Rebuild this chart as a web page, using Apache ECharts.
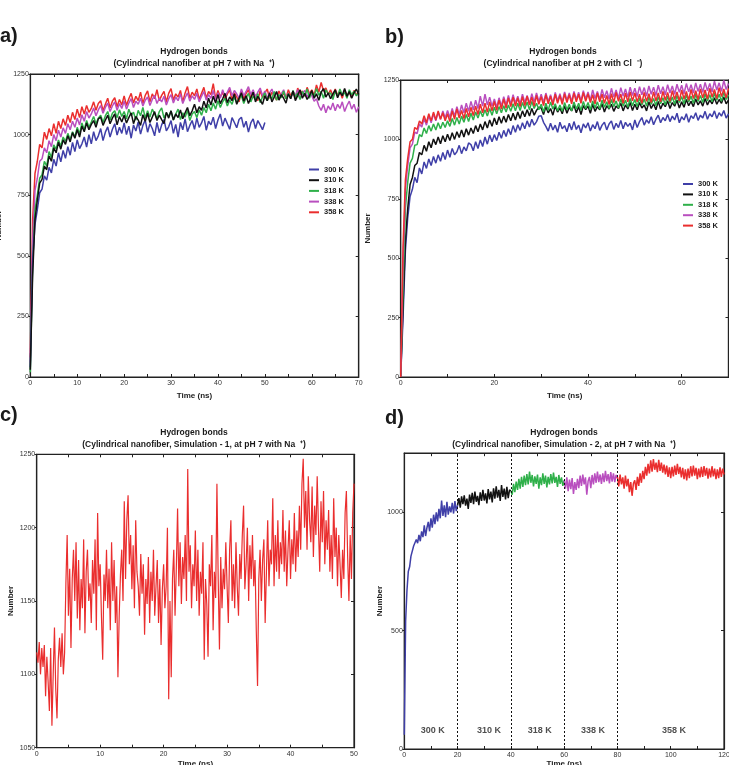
<!DOCTYPE html>
<html><head><meta charset="utf-8">
<script src="https://cdn.jsdelivr.net/npm/echarts@6/dist/echarts.min.js"></script>
<style>html,body{margin:0;padding:0;background:#fff}#c{width:729px;height:765px}</style>
</head><body><div id="c"></div>
<script>
const FONT = '"Liberation Sans", Arial, sans-serif';
const tempNames = ['300 K','310 K','318 K','338 K','358 K'];
const colors = ['#3f3fa8','#111111','#2fb04a','#b94fbf','#ea2e2e'];
const stepAB = 0.5, stepC = 0.2, stepD = 0.5;

// Panel a (pH 7, Na+), sampled every 0.5 ns
const a300 = [40,480,630,690,760,775,830,812,865,842,
898,870,925,888,935,902,950,915,968,930,
978,942,962,990,948,1000,962,1012,975,995,
1025,975,1010,1032,990,1022,1045,998,1030,1005,
1048,1000,1035,985,1040,1015,1052,1002,1038,1060,
1010,1045,1025,995,1050,1008,1040,1062,1015,1032,
1058,1005,1042,990,1050,1020,1065,1012,1038,1058,
1022,1068,1030,1048,1075,1018,1055,1040,1072,1025,
1060,1085,1035,1068,1045,1022,1070,1050,1028,1062,
1072,1030,1055,1010,1048,1065,1025,1058,1040,1020,
1050];
const a310 = [30,420,650,730,800,815,870,855,912,890,
945,925,968,940,978,960,995,970,1008,985,
1020,990,1035,1012,1048,1020,1042,1058,1030,1065,
1072,1038,1060,1080,1045,1068,1085,1040,1075,1052,
1080,1048,1070,1090,1045,1075,1060,1038,1082,1055,
1088,1050,1072,1095,1058,1080,1062,1045,1092,1068,
1098,1060,1085,1070,1102,1065,1090,1112,1078,1098,
1125,1090,1115,1100,1138,1110,1150,1122,1158,1130,
1165,1128,1148,1170,1132,1155,1140,1168,1125,1150,
1172,1138,1160,1128,1152,1175,1135,1158,1142,1125,
1160,1140,1172,1135,1155,1178,1142,1165,1150,1130,
1168,1148,1180,1140,1162,1185,1150,1170,1145,1160,
1182,1150,1168,1142,1175,1190,1155,1172,1148,1168,
1185,1152,1175,1160,1190,1158,1178,1150,1172,1188,
1165];
const a318 = [20,460,690,750,820,835,890,870,930,905,
958,940,978,952,990,972,1005,980,1012,990,
1030,1002,1048,1020,1058,1030,1052,1075,1045,1068,
1080,1050,1078,1095,1060,1088,1098,1070,1102,1075,
1095,1065,1105,1080,1092,1060,1100,1078,1112,1068,
1098,1072,1105,1085,1065,1095,1110,1068,1090,1075,
1098,1060,1085,1105,1062,1090,1072,1100,1058,1085,
1095,1070,1102,1080,1112,1090,1125,1098,1130,1105,
1140,1112,1135,1150,1118,1142,1125,1155,1130,1148,
1160,1128,1152,1170,1135,1158,1145,1168,1132,1155,
1172,1140,1160,1148,1178,1142,1165,1152,1180,1148,
1168,1150,1182,1155,1172,1145,1178,1160,1188,1150,
1175,1158,1190,1162,1178,1150,1185,1168,1172,1145,
1180,1158,1188,1162,1175,1150,1185,1165,1178,1160,
1172];
const a338 = [60,560,770,820,890,900,945,925,975,950,
1000,975,1018,990,1028,1005,1045,1020,1055,1030,
1068,1040,1082,1055,1095,1068,1085,1110,1078,1102,
1120,1088,1112,1130,1095,1118,1135,1100,1128,1108,
1138,1105,1130,1148,1112,1138,1125,1150,1118,1142,
1155,1120,1145,1162,1128,1150,1135,1158,1122,1148,
1165,1130,1155,1140,1168,1128,1152,1172,1138,1160,
1145,1170,1135,1158,1178,1142,1165,1150,1182,1140,
1172,1150,1185,1158,1175,1195,1160,1182,1168,1150,
1188,1160,1178,1198,1165,1185,1155,1175,1192,1160,
1180,1150,1172,1188,1158,1175,1145,1168,1185,1152,
1170,1148,1178,1160,1185,1150,1168,1182,1155,1172,
1160,1138,1148,1118,1100,1125,1090,1118,1102,1130,
1098,1125,1108,1135,1095,1120,1138,1105,1125,1092,
1115];
const a358 = [80,650,840,890,960,945,1010,980,1025,995,
1045,1005,1055,1025,1065,1038,1080,1050,1092,1062,
1105,1070,1115,1085,1120,1092,1108,1135,1100,1128,
1140,1098,1125,1150,1110,1138,1152,1115,1145,1122,
1160,1120,1148,1170,1130,1158,1140,1175,1128,1162,
1180,1135,1168,1148,1185,1140,1162,1178,1135,1170,
1190,1142,1168,1155,1182,1135,1172,1198,1150,1175,
1160,1188,1145,1170,1195,1150,1178,1165,1210,1148,
1182,1155,1175,1145,1168,1185,1142,1172,1155,1135,
1178,1148,1170,1185,1150,1175,1160,1140,1182,1152,
1172,1188,1150,1175,1160,1142,1180,1158,1170,1148,
1185,1160,1178,1150,1192,1165,1180,1158,1195,1168,
1185,1162,1205,1175,1215,1180,1192,1165,1185,1158,
1188,1162,1178,1150,1185,1160,1175,1152,1182,1165,
1172];

// Panel b (pH 2, Cl-), sampled every 0.5 ns
const b300 = [0,250,530,670,760,790,840,818,880,855,
905,878,918,890,928,900,935,908,945,915,
955,925,962,935,948,975,940,968,952,985,
978,952,990,962,998,970,1010,980,1018,990,
1020,995,1030,1005,1038,1012,1045,1020,1058,1030,
1062,1038,1070,1045,1078,1052,1085,1060,1075,1098,
1100,1072,1055,1035,1068,1040,1060,1030,1072,1045,
1058,1032,1068,1040,1075,1042,1060,1028,1065,1048,
1070,1035,1062,1045,1075,1038,1060,1072,1040,1065,
1078,1042,1068,1050,1080,1045,1072,1055,1068,1040,
1082,1050,1075,1092,1060,1082,1068,1095,1062,1085,
1102,1070,1092,1078,1105,1075,1098,1082,1110,1070,
1095,1082,1108,1072,1100,1088,1112,1080,1102,1090,
1118,1085,1108,1095,1120,1088,1112,1098,1122,1090,
1108];
const b310 = [0,300,570,710,810,840,890,900,945,935,
975,950,990,965,1002,978,1010,982,1015,990,
1022,995,1028,1000,1032,1008,1040,1010,1045,1018,
1048,1025,1058,1032,1065,1040,1075,1048,1082,1055,
1090,1062,1095,1068,1098,1072,1105,1078,1110,1082,
1115,1088,1120,1095,1125,1098,1130,1102,1122,1135,
1132,1105,1138,1112,1130,1102,1140,1115,1132,1108,
1142,1110,1135,1120,1145,1112,1138,1105,1142,1125,
1140,1110,1148,1118,1138,1125,1150,1115,1142,1128,
1148,1118,1140,1130,1152,1120,1145,1128,1155,1122,
1148,1125,1155,1132,1145,1120,1158,1130,1150,1125,
1160,1128,1152,1138,1162,1130,1155,1140,1165,1132,
1158,1135,1168,1142,1160,1138,1170,1145,1162,1140,
1172,1145,1165,1150,1175,1148,1168,1152,1178,1150,
1165];
const b318 = [0,380,710,820,900,920,975,978,1020,1012,
1048,1025,1058,1035,1065,1040,1070,1045,1072,1050,
1078,1055,1088,1060,1092,1065,1098,1072,1105,1075,
1110,1082,1115,1090,1120,1095,1125,1098,1130,1102,
1135,1108,1138,1112,1142,1115,1145,1118,1150,1120,
1152,1122,1155,1128,1158,1125,1160,1130,1152,1125,
1148,1115,1152,1122,1158,1128,1150,1120,1145,1118,
1155,1125,1148,1120,1158,1128,1152,1122,1160,1130,
1155,1125,1162,1132,1158,1128,1165,1135,1158,1130,
1168,1138,1162,1132,1170,1140,1165,1135,1172,1142,
1168,1138,1175,1145,1170,1140,1178,1148,1172,1142,
1180,1150,1175,1145,1182,1152,1178,1148,1185,1155,
1180,1150,1188,1158,1182,1152,1190,1160,1185,1155,
1192,1162,1188,1158,1195,1165,1190,1160,1198,1168,
1188];
const b338 = [0,480,790,890,965,980,1030,1025,1065,1052,
1088,1060,1100,1070,1108,1078,1115,1085,1120,1090,
1122,1092,1130,1098,1138,1105,1145,1112,1152,1118,
1160,1125,1165,1130,1182,1140,1190,1145,1178,1140,
1170,1135,1175,1140,1180,1145,1185,1148,1188,1152,
1182,1148,1190,1155,1185,1150,1192,1158,1195,1160,
1190,1155,1195,1160,1188,1152,1198,1162,1192,1158,
1200,1165,1195,1160,1202,1168,1198,1162,1205,1170,
1200,1165,1208,1172,1202,1168,1210,1175,1205,1170,
1215,1178,1208,1172,1218,1182,1212,1178,1220,1185,
1215,1180,1222,1188,1218,1182,1225,1190,1220,1185,
1228,1192,1222,1188,1230,1195,1225,1190,1232,1198,
1228,1192,1235,1200,1230,1195,1238,1202,1232,1198,
1240,1205,1235,1200,1245,1208,1238,1202,1248,1210,
1235];
const b358 = [0,550,830,920,990,1000,1050,1042,1078,1065,
1100,1070,1108,1078,1115,1082,1120,1085,1112,1078,
1108,1075,1120,1085,1128,1090,1122,1088,1130,1095,
1135,1100,1140,1105,1148,1112,1152,1115,1158,1120,
1160,1122,1165,1128,1170,1132,1175,1138,1178,1140,
1175,1138,1180,1142,1182,1145,1178,1140,1185,1148,
1180,1142,1188,1150,1182,1145,1190,1152,1185,1148,
1192,1155,1188,1150,1195,1158,1190,1152,1198,1160,
1192,1155,1188,1150,1195,1158,1190,1152,1185,1148,
1192,1155,1198,1160,1190,1152,1195,1158,1200,1162,
1195,1158,1190,1152,1198,1160,1192,1155,1200,1162,
1195,1158,1202,1165,1198,1160,1205,1168,1200,1162,
1208,1170,1202,1165,1210,1172,1205,1168,1212,1175,
1208,1170,1215,1178,1210,1172,1218,1180,1212,1175,
1215];

// Panel c (Simulation 1), sampled every 0.2 ns
const cRed = [1115,1108,1122,1100,1118, 1105,1120,1085,1112,1095,
1075,1118,1065,1100,1132, 1090,1070,1110,1125,1105,
1128,1100,1115,1162,1195, 1140,1172,1118,1165,1185,
1150,1190,1138,1178,1130, 1165,1145,1192,1128,1170,
1185,1150,1162,1135,1178, 1155,1192,1130,1210,1160,
1175,1140,1110,1168,1150, 1185,1145,1172,1130,1190,
1150,1178,1135,1160,1098, 1140,1168,1185,1150,1218,
1165,1205,1222,1175,1195, 1158,1188,1145,1205,1170,
1160,1140,1182,1155,1175, 1127,1165,1148,1180,1135,
1170,1150,1185,1140,1160, 1178,1135,1165,1120,1158,
1175,1145,1160,1200,1083, 1150,1098,1165,1185,1140,
1172,1213,1160,1190,1148, 1180,1165,1195,1150,1240,
1170,1188,1145,1175,1160, 1198,1150,1185,1140,1170,
1155,1190,1110,1165,1148, 1112,1175,1160,1195,1130,
1170,1152,1230,1165,1117, 1180,1145,1172,1158,1190,
1160,1135,1185,1205,1150, 1175,1145,1190,1160,1140,
1182,1165,1195,1215,1158, 1175,1200,1150,1188,1165,
1195,1160,1178,1130,1092, 1165,1185,1150,1178,1192,
1135,1170,1205,1160,1185, 1175,1220,1160,1195,1170,
1205,1165,1190,1175,1212, 1170,1198,1160,1185,1205,
1165,1192,1175,1210,1170, 1198,1180,1215,1185,1230,
1247,1200,1225,1185,1235, 1205,1190,1228,1180,1215,
1195,1235,1200,1170,1218, 1190,1225,1175,1205,1185,
1212,1170,1195,1165,1220, 1180,1200,1160,1195,1175,
1152,1185,1165,1210,1225, 1180,1150,1195,1165,1210,
1230];

// Panel d (Simulation 2), sampled every 0.5 ns, one segment per temperature
const dStart = [0,20,40,60,80];
const d300 = [60,540,670,750,770,815,820,858,855,885,
870,905,878,920,895,945,900,935,960,920,
975,935,990,950,1000,962,1015,975,1050,985,
1030,980,1045,990,1025,1000,1040,995,1048,1005,1030];
const d310 = [1030,1060,1020,1068,1035,1072,1028,1058,1015,1075,
1040,1082,1035,1088,1045,1070,1030,1085,1048,1095,
1050,1080,1038,1098,1055,1088,1042,1102,1058,1110,
1062,1095,1048,1115,1065,1100,1055,1108,1060,1095,1090];
const d318 = [1090,1075,1120,1085,1130,1095,1142,1100,1150,1108,
1155,1115,1162,1118,1172,1125,1158,1110,1152,1120,
1160,1100,1148,1115,1165,1120,1155,1105,1150,1118,
1162,1122,1168,1125,1150,1108,1158,1120,1148,1112,1135];
const d338 = [1135,1100,1148,1090,1138,1098,1145,1078,1128,1095,
1142,1102,1155,1112,1160,1118,1148,1075,1132,1150,
1102,1158,1118,1165,1125,1172,1128,1160,1120,1165,
1128,1175,1132,1162,1122,1170,1130,1165,1128,1158,1145];
const d358 = [1150,1110,1160,1118,1148,1100,1155,1110,1142,1085,
1128,1070,1122,1135,1095,1150,1112,1165,1125,1175,
1140,1192,1155,1205,1165,1220,1172,1225,1180,1210,
1170,1222,1175,1210,1168,1202,1160,1198,1150,1190,
1145,1192,1152,1198,1158,1205,1162,1192,1148,1188,
1140,1182,1135,1185,1145,1195,1152,1198,1155,1188,
1140,1185,1148,1192,1150,1196,1155,1188,1142,1185,
1148,1195,1152,1185,1140,1182,1145,1190,1150,1185,1160];
const dDividers = [20,40,60,80];
const dLabelX = [10.7,31.8,50.8,70.8,101.2];
const dLabelY = 76;

function xy(vals, start, step){ return vals.map((v,i)=>[+(start+i*step).toFixed(2), v]); }

const grids = [
  {left:30.3, top:74, width:328.4, height:303},
  {left:400.7, top:80, width:327.8, height:297},
  {left:36.7, top:454.3, width:317.3, height:293.4},
  {left:404.3, top:453.2, width:319.7, height:295.8}
].map(g => Object.assign(g, {show:true, borderColor:'#222', borderWidth:1.2, containLabel:false, outerBoundsMode:'none'}));

const lineAx = {show:true, onZero:false, lineStyle:{color:'#222', width:1.2}};
function xMain(g, max, interval, labStep, gap){
  return {type:'value', gridIndex:g, min:0, max, interval, position:'bottom',
    axisLine:lineAx, axisTick:{show:true, inside:true, length:3, lineStyle:{color:'#222'}},
    axisLabel:{fontSize:7, color:'#333', margin:2.5, fontFamily:FONT, showMinLabel:true, showMaxLabel:true,
      formatter: v => (Math.round(v)%labStep===0) ? String(v) : ''},
    splitLine:{show:false},
    name:'Time (ns)', nameLocation:'middle', nameGap:gap,
    nameTextStyle:{fontSize:8, fontWeight:'bold', color:'#222', fontFamily:FONT}};
}
function xTop(g, max, interval){
  return {type:'value', gridIndex:g, min:0, max, interval, position:'top',
    axisLine:lineAx, axisTick:{show:true, inside:true, length:3, lineStyle:{color:'#222'}},
    axisLabel:{show:false}, splitLine:{show:false}};
}
function yMain(g, min, max, interval, gap, showMax){
  return {type:'value', gridIndex:g, min, max, interval, position:'left',
    axisLine:lineAx, axisTick:{show:true, inside:false, length:2, lineStyle:{color:'#222'}},
    axisLabel:{fontSize:7, color:'#333', margin:1.5, fontFamily:FONT, showMaxLabel:showMax, showMinLabel:true,
      formatter: v => String(v)},
    splitLine:{show:false},
    name:'Number', nameLocation:'middle', nameGap:gap,
    nameTextStyle:{fontSize:8, fontWeight:'bold', color:'#222', fontFamily:FONT}};
}
function yRight(g, min, max, interval){
  return {type:'value', gridIndex:g, min, max, interval, position:'right',
    axisLine:lineAx, axisTick:{show:true, inside:true, length:3, lineStyle:{color:'#222'}},
    axisLabel:{show:false}, splitLine:{show:false}};
}

const xAxes = [
  xMain(0,70,5,10,15), xMain(1,70,10,20,15), xMain(2,50,5,10,12), xMain(3,120,10,20,11),
  xTop(0,70,5), xTop(1,70,10), xTop(2,50,5), xTop(3,120,10)
];
xAxes[1].axisLabel.formatter = v => (v%20===0 && v<70) ? String(v) : '';
const yAxes = [
  yMain(0,0,1250,250,28,true), yMain(1,0,1250,250,29,true), yMain(2,1050,1250,50,22,true), yMain(3,0,1250,500,21,false),
  yRight(0,0,1250,250), yRight(1,0,1250,250), yRight(2,1050,1250,50), yRight(3,0,1250,500)
];

function ln(name, data, g, color, w, extra){
  return Object.assign({type:'line', name, data, xAxisIndex:g, yAxisIndex:g, showSymbol:false, symbol:'none',
    lineStyle:{color, width:w}, itemStyle:{color}, animation:false, silent:true, z:2}, extra||{});
}

const series = [];
const aVals = [a300,a310,a318,a338,a358];
[4,3,2,0,1].forEach(i => series.push(ln(tempNames[i], xy(aVals[i],0,stepAB), 0, colors[i], 1.5)));
const bVals = [b300,b310,b318,b338,b358];
[0,1,2,3,4].forEach(i => series.push(ln(tempNames[i], xy(bVals[i],0,stepAB), 1, colors[i], 1.5)));
series.push(ln('Simulation 1', xy(cRed,0,stepC), 2, colors[4], 1.2));
const dVals = [d300,d310,d318,d338,d358];
dVals.forEach((v,i) => series.push(ln('d '+tempNames[i], xy(v,dStart[i],stepD), 3, colors[i], 1.5,
  i===0 ? {markLine:{silent:true, symbol:['none','none'], label:{show:false}, animation:false,
    lineStyle:{type:[2,2], color:'#111', width:1}, data: dDividers.map(x=>({xAxis:x}))}} : {})));
series.push({type:'scatter', xAxisIndex:3, yAxisIndex:3, symbolSize:1, silent:true, animation:false,
  itemStyle:{color:'rgba(0,0,0,0)'},
  data: dLabelX.map((x,i)=>({value:[x,dLabelY], name:tempNames[i]})),
  label:{show:true, position:'inside', formatter:p=>p.name, fontSize:9, fontWeight:'bold', color:'#222', fontFamily:FONT}});

function legendAt(left, top, gap){
  return {data:tempNames, orient:'vertical', left, top, itemWidth:10, itemHeight:2, icon:'rect', itemGap:gap, padding:0,
    selectedMode:false, textStyle:{fontSize:7.5, fontWeight:'bold', color:'#222', fontFamily:FONT, lineHeight:9}};
}

function txt(x, y, text, size, align){
  return {type:'text', x, y, silent:true, style:{text, fontSize:size, fontWeight:'bold', fontFamily:FONT, fill:'#1a1a1a',
    align:align||'center', verticalAlign:'middle'}};
}
const graphic = [
  txt(0,36,'a)',20,'left'), txt(385,37,'b)',20,'left'), txt(0,415,'c)',20,'left'), txt(385,418,'d)',20,'left'),
  txt(194,52,'Hydrogen bonds',8.5), txt(194,64,'(Cylindrical nanofiber at pH 7 with Na  \u207A)',8.5),
  txt(563,52,'Hydrogen bonds',8.5), txt(563,64,'(Cylindrical nanofiber at pH 2 with Cl  \u207B)',8.5),
  txt(194,433,'Hydrogen bonds',8.5), txt(194,444.5,'(Cylindrical nanofiber, Simulation - 1, at pH 7 with Na  \u207A)',8.5),
  txt(564,433,'Hydrogen bonds',8.5), txt(564,444.5,'(Cylindrical nanofiber, Simulation - 2, at pH 7 with Na  \u207A)',8.5)
];

const chart = echarts.init(document.getElementById('c'), null, {renderer:'canvas'});
chart.setOption({
  backgroundColor:'#fff', animation:false,
  grid:grids, xAxis:xAxes, yAxis:yAxes, series,
  legend:[legendAt(309,165,1.7), legendAt(683,179.5,1.4)],
  graphic
});
</script></body></html>
